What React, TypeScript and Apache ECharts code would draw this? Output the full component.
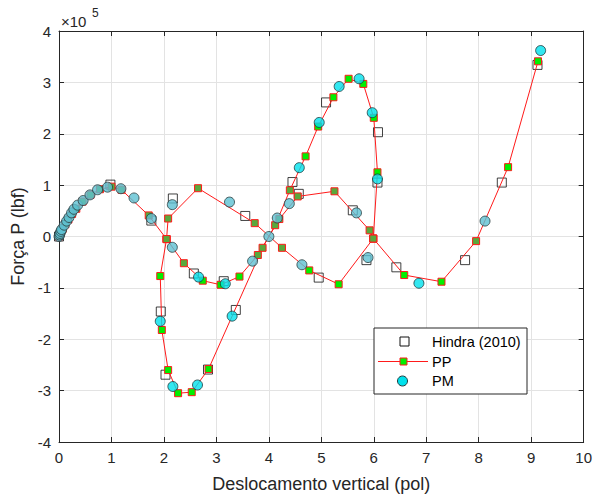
import React, { useEffect, useRef } from "react";
import * as echarts from "echarts";

// Force values are in units of 10^5 lbf (axis multiplier ×10^5)
const xTicks = { min: 0, max: 10, interval: 1 };
const yTicks = { min: -4, max: 4, interval: 1 };

const hindra: [number, number][] = [
  [0, 0], [0.98, 1.01], [1.76, 0.31], [2.17, 0.74], [1.94, -1.46], [2.03, -2.69],
  [2.84, -2.59], [3.37, -1.43], [2.57, -0.72], [3.14, -0.87], [3.55, 0.4],
  [4.45, 1.06], [4.57, 0.83], [5.09, 2.61], [6.08, 2.03], [6.07, 1.05],
  [5.6, 0.51], [5.86, -0.46], [4.95, -0.8], [6.43, -0.6], [7.74, -0.46],
  [8.44, 1.05], [9.12, 3.34],
];

// PP: main equilibrium path
const ppMain: [number, number][] = [
  [0, 0], [0.03, 0.07], [0.07, 0.15], [0.12, 0.24], [0.18, 0.33], [0.25, 0.44],
  [0.33, 0.54], [0.45, 0.68], [0.6, 0.81], [0.78, 0.92], [1.0, 0.97], [1.19, 0.91],
  [1.71, 0.41], [2.05, -0.05], [1.93, -0.77], [1.96, -1.82], [2.08, -2.6],
  [2.27, -3.05], [2.53, -3.03], [2.85, -2.58], [3.88, -0.22], [4.12, 0.22],
  [4.4, 0.9], [4.7, 1.56], [4.94, 2.14], [5.23, 2.71], [5.52, 3.07], [5.8, 2.97],
  [6.0, 2.31], [6.07, 1.25], [5.99, -0.04], [6.58, -0.75], [7.29, -0.88],
  [7.95, -0.09], [8.56, 1.35], [9.13, 3.41],
];
// PP: secondary branches
const ppBranchA: [number, number][] = [
  [2.05, -0.05], [2.08, 0.35], [2.65, 0.94], [3.73, 0.26], [4.25, -0.22],
  [4.77, -0.66], [5.33, -0.93], [5.99, -0.04],
];
const ppBranchB: [number, number][] = [
  [2.05, -0.05], [2.38, -0.52], [2.74, -0.86], [3.08, -0.94], [3.44, -0.78],
  [3.79, -0.36], [4.2, 0.34], [4.55, 0.78], [5.25, 0.88], [5.92, 0.12], [5.99, -0.04],
];
// indices of PP markers drawn in the darker shade
const ppMainDark = [0, 1, 2, 3, 4, 5, 6, 7, 8, 9, 10, 11, 12, 13, 20, 21, 22, 30, 33];
const ppADark = [0, 1, 2, 3, 4, 7];
const ppBDark = [0, 1, 5, 6, 7, 8, 9, 10];

const pmBright: [number, number][] = [
  [1.93, -1.65], [2.17, -2.92], [2.64, -2.89], [3.3, -1.55], [2.66, -0.79],
  [3.17, -0.92], [4.58, 1.34], [4.96, 2.22], [5.34, 2.92], [5.72, 3.07],
  [5.97, 2.41], [6.07, 1.12], [6.86, -0.91], [9.18, 3.62],
];
const pmDark: [number, number][] = [
  [0, 0], [0.01, 0.03], [0.02, 0.06], [0.035, 0.1], [0.05, 0.135], [0.1, 0.22],
  [0.146, 0.3], [0.19, 0.37], [0.24, 0.46], [0.285, 0.53], [0.355, 0.61],
  [0.46, 0.7], [0.59, 0.81], [0.735, 0.91], [0.925, 0.96], [1.18, 0.93],
  [1.43, 0.75], [1.76, 0.35], [2.16, 0.62], [2.16, -0.21], [3.25, 0.67],
  [3.69, -0.48], [4.0, 0.0], [4.16, 0.36], [4.39, 0.64], [4.63, -0.55],
  [5.67, 0.46], [5.89, -0.41], [8.12, 0.3],
];

const legendLabels = ["Hindra (2010)", "PP", "PM"];

const FONT = '"Liberation Sans", Arial, Helvetica, sans-serif';
const AX = "#262626";
const GRID = "#e3e3e3";
const PP_BRIGHT = "#00f000";
const PP_DARK = "#5aa83c";
const PM_BRIGHT = "#00e1ec";
const PM_DARK = "#5ec0d2";
const RED = "#ff1a1a";

function ppItems(pts: [number, number][], dark: number[]) {
  return pts.map((p, i) => ({
    value: p,
    itemStyle: { color: dark.includes(i) ? PP_DARK : PP_BRIGHT, borderColor: RED, borderWidth: 1 },
  }));
}

function ppSeries(pts: [number, number][], dark: number[]) {
  return {
    name: "PP",
    type: "line",
    data: ppItems(pts, dark),
    symbol: "rect",
    symbolSize: 7,
    showAllSymbol: true,
    lineStyle: { color: RED, width: 1 },
    itemStyle: { color: PP_BRIGHT, borderColor: RED, borderWidth: 1 },
    z: 3,
  };
}

export default function App() {
  const ref = useRef<HTMLDivElement>(null);
  useEffect(() => {
    if (!ref.current) return;
    const chart = echarts.init(ref.current, undefined, { renderer: "svg" });
    const axisCommon = {
      type: "value",
      axisLine: { show: true, onZero: false, lineStyle: { color: AX, width: 1 } },
      axisTick: { show: true, inside: true, length: 5, lineStyle: { color: AX } },
    };
    const textStyle = (text: string, size: number) => ({
      text,
      fill: "#000",
      fontSize: size,
      fontFamily: FONT,
      verticalAlign: "middle",
    });
    chart.setOption({
      animation: false,
      backgroundColor: "#fff",
      textStyle: { fontFamily: FONT },
      grid: { left: 59, right: 10, top: 31, bottom: 53, containLabel: false },
      xAxis: [
        {
          ...axisCommon,
          ...xTicks,
          position: "bottom",
          axisLabel: { color: AX, fontSize: 15, margin: 8, fontFamily: FONT },
          splitLine: { show: true, lineStyle: { color: GRID, width: 1 } },
          name: "Deslocamento vertical (pol)",
          nameLocation: "middle",
          nameGap: 33,
          nameTextStyle: { color: AX, fontSize: 18, fontFamily: FONT },
        },
        {
          ...axisCommon,
          ...xTicks,
          position: "top",
          axisLabel: { show: false },
          splitLine: { show: false },
        },
      ],
      yAxis: [
        {
          ...axisCommon,
          ...yTicks,
          position: "left",
          axisLabel: { color: AX, fontSize: 15, margin: 8, fontFamily: FONT },
          splitLine: { show: true, lineStyle: { color: GRID, width: 1 } },
          name: "Força P (lbf)",
          nameLocation: "middle",
          nameGap: 27,
          nameRotate: 90,
          nameTextStyle: { color: AX, fontSize: 18, fontFamily: FONT },
        },
        {
          ...axisCommon,
          ...yTicks,
          position: "right",
          axisLabel: { show: false },
          splitLine: { show: false },
        },
      ],
      series: [
        {
          name: "Hindra (2010)",
          type: "scatter",
          data: hindra,
          symbol: "rect",
          symbolSize: 9,
          itemStyle: { color: "rgba(255,255,255,0)", borderColor: "#111", borderWidth: 1 },
          z: 2,
        },
        ppSeries(ppMain, ppMainDark),
        ppSeries(ppBranchA, ppADark),
        ppSeries(ppBranchB, ppBDark),
        {
          name: "PM",
          type: "scatter",
          data: pmDark,
          symbol: "circle",
          symbolSize: 10,
          itemStyle: { color: PM_DARK, borderColor: "#2b3d40", borderWidth: 1 },
          z: 4,
        },
        {
          name: "PM",
          type: "scatter",
          data: pmBright,
          symbol: "circle",
          symbolSize: 10,
          itemStyle: { color: PM_BRIGHT, borderColor: "#1f3a3d", borderWidth: 1 },
          z: 4,
        },
      ],
      graphic: [
        {
          type: "text",
          x: 61,
          y: 21,
          z: 100,
          style: { ...textStyle("×10", 15), fill: AX },
        },
        {
          type: "text",
          x: 92,
          y: 13,
          z: 100,
          style: { ...textStyle("5", 12), fill: AX },
        },
        {
          type: "rect",
          z: 100,
          shape: { x: 374, y: 328, width: 153, height: 66 },
          style: { fill: "#ffffff", stroke: AX, lineWidth: 1 },
        },
        {
          type: "rect",
          z: 101,
          shape: { x: 400, y: 337, width: 9, height: 9 },
          style: { fill: "#ffffff", stroke: "#111", lineWidth: 1 },
        },
        {
          type: "text",
          z: 101,
          x: 432,
          y: 342,
          style: textStyle(legendLabels[0], 14.5),
        },
        {
          type: "line",
          z: 101,
          shape: { x1: 378, y1: 361.5, x2: 428, y2: 361.5 },
          style: { stroke: RED, lineWidth: 1 },
        },
        {
          type: "rect",
          z: 102,
          shape: { x: 400, y: 358, width: 7, height: 7 },
          style: { fill: PP_BRIGHT, stroke: RED, lineWidth: 1 },
        },
        {
          type: "text",
          z: 101,
          x: 432,
          y: 362,
          style: textStyle(legendLabels[1], 14.5),
        },
        {
          type: "circle",
          z: 101,
          shape: { cx: 402.5, cy: 381, r: 5 },
          style: { fill: PM_BRIGHT, stroke: "#1f3a3d", lineWidth: 1 },
        },
        {
          type: "text",
          z: 101,
          x: 432,
          y: 381,
          style: textStyle(legendLabels[2], 14.5),
        },
      ],
    });
    return () => chart.dispose();
  }, []);
  return (
    <div
      ref={ref}
      style={{ position: "absolute", left: 0, top: 0, width: 595, height: 498 }}
    />
  );
}
